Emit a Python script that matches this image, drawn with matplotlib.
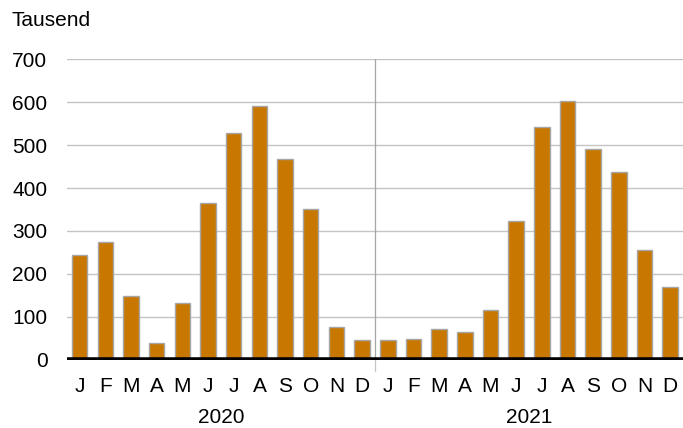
import matplotlib.pyplot as plt
import numpy as np

plt.rcParams["font.family"] = ["Liberation Sans", "DejaVu Sans"]

months = ["J", "F", "M", "A", "M", "J", "J", "A", "S", "O", "N", "D"]
years = ["2020", "2021"]
values2020 = [245, 275, 149, 39, 132, 366, 528, 590, 467, 352, 76, 46]
values2021 = [46, 48, 72, 66, 116, 324, 543, 602, 490, 437, 255, 170]
yticks = [0, 100, 200, 300, 400, 500, 600, 700]

values = values2020 + values2021
labels = months * len(years)
x = np.arange(len(values))

fig = plt.figure(figsize=(6.83, 4.28), dpi=100)
ax = fig.add_axes([0.098, 0.159, 0.902, 0.703])

for yt in yticks[1:]:
    ax.axhline(yt, color="#c4c4c4", linewidth=1.0, zorder=0)

ax.bar(x, values, width=0.6, color="#c87800", edgecolor="#a6a6a6", linewidth=1.0, zorder=2)
ax.axhline(0, color="black", linewidth=4.0, zorder=3)
ax.plot([11.5, 11.5], [0, 700], color="#a6a6a6", linewidth=0.9, zorder=1)
ax.plot([11.5, 11.5], [-25, 0], color="#c4c4c4", linewidth=0.9, zorder=1, clip_on=False)

ax.set_xlim(-0.5, len(values) - 0.5)
ax.set_ylim(0, 700)
ax.set_yticks(yticks)
ax.set_xticks(x)
ax.set_xticklabels(labels)
ax.tick_params(axis="both", length=0, labelsize=15, colors="black")
ax.tick_params(axis="y", pad=14)
ax.tick_params(axis="x", pad=12)
for side in ["top", "right", "left", "bottom"]:
    ax.spines[side].set_visible(False)

for i, yr in enumerate(years):
    ax.text(5.5 + 12 * i, -0.19, yr, transform=ax.get_xaxis_transform(),
            ha="center", va="center", fontsize=15)

fig.text(12 / 683, 1 - 20 / 428, "Tausend", ha="left", va="center", fontsize=15)

fig.savefig("out.png", dpi=100)
